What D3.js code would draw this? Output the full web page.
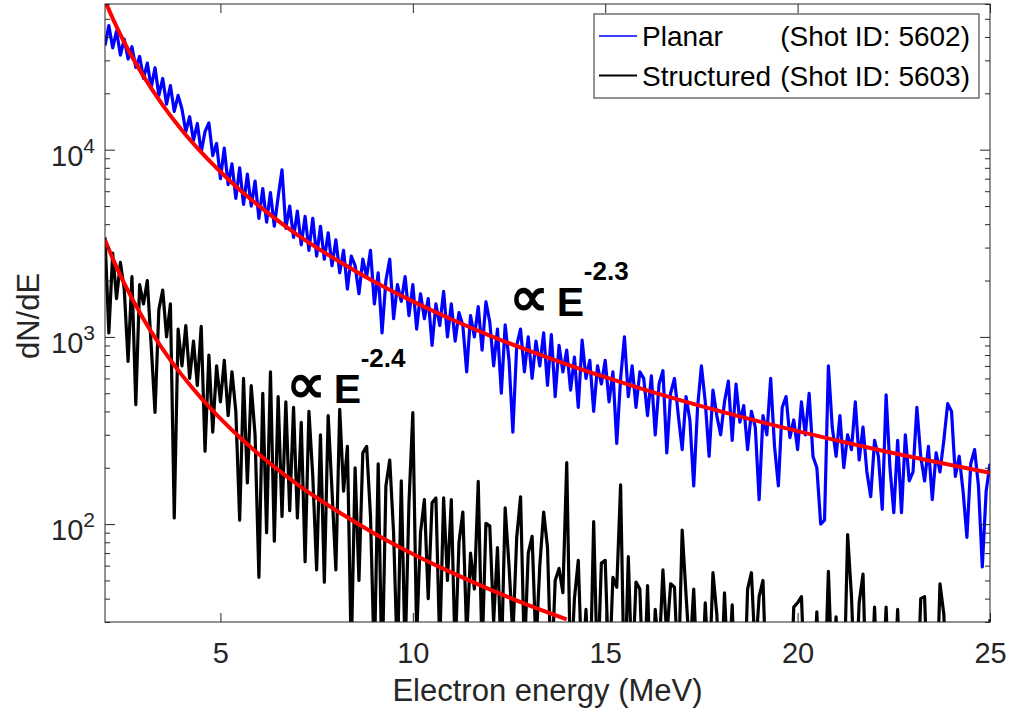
<!DOCTYPE html>
<html>
<head>
<meta charset="utf-8">
<script src="https://cdn.jsdelivr.net/npm/d3@7"></script>
<style>
  body { margin: 0; background: #fff; }
  svg text { font-family: "Liberation Sans", Arial, Helvetica, sans-serif; }
</style>
</head>
<body>
<svg id="chart" width="1013" height="714"></svg>
<script>
// energy bins (MeV)
const energy = [
  2.0, 2.1, 2.2, 2.3, 2.4, 2.5, 2.6, 2.7, 2.8, 2.9,
  3.0, 3.1, 3.2, 3.3, 3.4, 3.5, 3.6, 3.7, 3.8, 3.9,
  4.0, 4.1, 4.2, 4.3, 4.4, 4.5, 4.6, 4.7, 4.8, 4.9,
  5.0, 5.1, 5.2, 5.3, 5.4, 5.5, 5.6, 5.7, 5.8, 5.9,
  6.0, 6.1, 6.2, 6.3, 6.4, 6.5, 6.6, 6.7, 6.8, 6.9,
  7.0, 7.1, 7.2, 7.3, 7.4, 7.5, 7.6, 7.7, 7.8, 7.9,
  8.0, 8.1, 8.2, 8.3, 8.4, 8.5, 8.6, 8.7, 8.8, 8.9,
  9.0, 9.1, 9.2, 9.3, 9.4, 9.5, 9.6, 9.7, 9.8, 9.9,
  10.0, 10.1, 10.2, 10.3, 10.4, 10.5, 10.6, 10.7, 10.8, 10.9,
  11.0, 11.1, 11.2, 11.3, 11.4, 11.5, 11.6, 11.7, 11.8, 11.9,
  12.0, 12.1, 12.2, 12.3, 12.4, 12.5, 12.6, 12.7, 12.8, 12.9,
  13.0, 13.1, 13.2, 13.3, 13.4, 13.5, 13.6, 13.7, 13.8, 13.9,
  14.0, 14.1, 14.2, 14.3, 14.4, 14.5, 14.6, 14.7, 14.8, 14.9,
  15.0, 15.1, 15.2, 15.3, 15.4, 15.5, 15.6, 15.7, 15.8, 15.9,
  16.0, 16.1, 16.2, 16.3, 16.4, 16.5, 16.6, 16.7, 16.8, 16.9,
  17.0, 17.1, 17.2, 17.3, 17.4, 17.5, 17.6, 17.7, 17.8, 17.9,
  18.0, 18.1, 18.2, 18.3, 18.4, 18.5, 18.6, 18.7, 18.8, 18.9,
  19.0, 19.1, 19.2, 19.3, 19.4, 19.5, 19.6, 19.7, 19.8, 19.9,
  20.0, 20.1, 20.2, 20.3, 20.4, 20.5, 20.6, 20.7, 20.8, 20.9,
  21.0, 21.1, 21.2, 21.3, 21.4, 21.5, 21.6, 21.7, 21.8, 21.9,
  22.0, 22.1, 22.2, 22.3, 22.4, 22.5, 22.6, 22.7, 22.8, 22.9,
  23.0, 23.1, 23.2, 23.3, 23.4, 23.5, 23.6, 23.7, 23.8, 23.9,
  24.0, 24.1, 24.2, 24.3, 24.4, 24.5, 24.6, 24.7, 24.8, 24.9,
  25.0
];

// dN/dE, planar target (shot 5602)
const planar = [
  36000, 46000, 35000, 43000, 32000, 39000, 30500, 35500, 27500, 31500,
  24000, 29000, 21500, 27400, 19500, 24000, 17500, 22000, 16000, 19500,
  16500, 12500, 15000, 11200, 13800, 9700, 12500, 13900, 9300, 10800,
  7000, 10200, 6500, 8400, 5500, 8000, 5100, 7400, 5000, 6800,
  4300, 6200, 4100, 5900, 3900, 5600, 7800, 3800, 5000, 3400,
  4700, 3100, 4400, 2900, 4300, 2700, 3900, 2600, 3600, 2400,
  3300, 2200, 2900, 1800, 2700, 2400, 1700, 2600, 2100, 2900,
  1500, 2200, 1050, 2000, 2600, 1250, 1900, 1550, 2100, 1300,
  1900, 1100, 1700, 1250, 1600, 900, 1500, 1150, 1750, 1000,
  1500, 950, 1350, 1150, 650, 1300, 1000, 1450, 850, 1540,
  1200, 700, 1100, 500, 1160, 750, 310, 900, 1100, 650,
  1000, 600, 950, 700, 1050, 550, 1030, 480, 900, 650,
  850, 520, 780, 420, 960, 600, 750, 400, 700, 560,
  750, 450, 650, 270, 600, 1000, 480, 700, 420, 650,
  600, 380, 620, 300, 560, 660, 240, 500, 600, 380,
  250, 480, 360, 160, 420, 700, 450, 230, 520, 380,
  300, 450, 580, 280, 560, 350, 430, 250, 400, 330,
  135, 380, 300, 600, 260, 160, 420, 480, 290, 360,
  250, 450, 300, 500, 230, 200, 100, 105, 700, 330,
  230, 380, 200, 300, 250, 450, 220, 330, 190, 140,
  280, 230, 120, 490, 200, 115, 280, 115, 300, 170,
  190, 420, 230, 170, 260, 135, 240, 190, 280, 440,
  400, 180, 230, 150, 85, 210, 250, 160, 59, 150,
  210
];

// dN/dE, structured target (shot 5603)
const structured = [
  3400, 1050, 2800, 1600, 2500, 1800, 740, 2100, 435, 1900,
  1500, 2000, 900, 395, 1400, 1780, 1000, 1500, 108, 1100,
  700, 1150, 600, 950, 550, 1140, 245, 800, 310, 700,
  450, 750, 380, 650, 400, 105, 600, 166, 550, 300,
  52, 500, 90, 650, 81, 480, 110, 450, 118, 420,
  108, 350, 63, 400, 180, 57, 300, 49, 380, 150,
  57, 410, 150, 260, 20, 200, 50, 240, 260, 110,
  18, 210, 15, 160, 220, 90, 18, 170, 20, 130,
  394, 25, 90, 135, 40, 130, 138, 22, 138, 50,
  135, 20, 80, 116, 25, 70, 45, 169, 20, 101,
  98, 30, 75, 18, 122, 60, 25, 85, 140, 20,
  70, 86, 22, 60, 116, 75, 15, 50, 58, 43,
  213, 15, 40, 64, 15, 35, 12, 103, 15, 62,
  64, 15, 52, 46, 162, 12, 67, 15, 49, 45,
  12, 47, 10, 35, 20, 57, 25, 48, 46, 15,
  93, 42, 20, 45, 15, 12, 38, 15, 55, 33,
  12, 43, 15, 37, 10, 12, 10, 45, 55, 20,
  41, 50, 12, 10, 10, 12, 10, 12, 10, 36,
  38, 41, 12, 10, 12, 34, 10, 12, 56, 15,
  32, 10, 12, 88, 41, 12, 38, 54, 10, 12,
  36, 10, 12, 36, 10, 12, 35, 10, 12, 10,
  12, 10, 40, 41, 10, 12, 10, 48, 33, 10,
  12, 10, 12, 10, 12, 10, 12, 10, 12, 10,
  31
];

// power-law fits
const planarFitE = [2.0, 2.2, 2.5, 3.0, 3.5, 4.0, 4.5, 5.0, 5.5, 6.0, 7.0, 8.0, 9.0, 10, 11, 12, 13, 14, 15, 16, 18, 20, 22, 25];
const planarFit = [62600, 50300, 37500, 24700, 17300, 12700, 9700, 7620, 6110, 5010, 3510, 2590, 1970, 1547, 1242, 1017, 846, 713, 609, 525, 400, 314, 252, 188];
const structFitE = [2.0, 2.25, 2.5, 3.0, 3.5, 4.0, 4.5, 5.0, 5.5, 6.0, 7.0, 8.0, 9.0, 10, 11, 12, 13, 14];
const structFit = [3300, 2487, 1932, 1247, 861, 625, 471, 366, 291, 236, 163, 118.5, 89.2, 69.3, 55.2, 44.8, 36.9, 31];

const xTicks = [5, 10, 15, 20, 25];
const yTicks = [100, 1000, 10000];
const yTickExp = ["2", "3", "4"];
const legendNames = ["Planar", "Structured"];
const legendShots = ["(Shot ID: 5602)", "(Shot ID: 5603)"];
const seriesColors = ["#0000ff", "#000000"];
const fitNotes = [
  { e: 12.6, v: 1300, exp: "-2.3" },
  { e: 6.8, v: 445, exp: "-2.4" }
];

const W = 1013, H = 714;
const margin = { top: 4, right: 23, bottom: 92, left: 105 };
const axisColor = "#262626";

const svg = d3.select("#chart");
svg.append("rect").attr("width", W).attr("height", H).attr("fill", "#fff");

const x = d3.scaleLinear().domain([2, 25]).range([margin.left, W - margin.right]);
const y = d3.scaleLog().domain([30, 60000]).range([H - margin.bottom, margin.top]);

svg.append("defs").append("clipPath").attr("id", "plot-clip")
  .append("rect")
  .attr("x", x.range()[0]).attr("y", y.range()[1])
  .attr("width", x.range()[1] - x.range()[0])
  .attr("height", y.range()[0] - y.range()[1]);

const line = d3.line()
  .x(d => x(d[0]))
  .y(d => y(d[1]));

const plot = svg.append("g").attr("clip-path", "url(#plot-clip)");

[planar, structured].forEach((vals, k) => {
  plot.append("path")
    .datum(energy.map((e, i) => [e, vals[i]]))
    .attr("d", line)
    .attr("fill", "none")
    .attr("stroke", seriesColors[k])
    .attr("stroke-width", 3.2)
    .attr("stroke-linejoin", "round");
});

const smooth = d3.line().x(d => x(d[0])).y(d => y(d[1])).curve(d3.curveMonotoneX);

[[planarFitE, planarFit], [structFitE, structFit]].forEach(([es, vs]) => {
  plot.append("path")
    .datum(es.map((e, i) => [e, vs[i]]))
    .attr("d", smooth)
    .attr("fill", "none")
    .attr("stroke", "#ff0000")
    .attr("stroke-width", 4);
});

// axes, MATLAB style: ticks inward on all four sides
const minorTicks = y.ticks().filter(t => !yTicks.includes(t) && t >= 30 && t <= 60000);

function styleAxis(g) {
  g.attr("color", axisColor)
    .attr("font-family", null)
    .attr("font-size", null);
  g.select(".domain").remove();
}

svg.append("g")
  .attr("transform", `translate(0,${y.range()[0]})`)
  .call(d3.axisBottom(x).tickValues(xTicks).tickSizeInner(-9).tickSizeOuter(0).tickPadding(20))
  .call(styleAxis)
  .selectAll("text").attr("font-size", 29).attr("fill", axisColor);

svg.append("g")
  .attr("transform", `translate(0,${y.range()[1]})`)
  .call(d3.axisTop(x).tickValues(xTicks).tickSizeInner(-9).tickSizeOuter(0).tickFormat(() => ""))
  .call(styleAxis);

[[d3.axisLeft, x.range()[0]], [d3.axisRight, x.range()[1]]].forEach(([ax, pos]) => {
  svg.append("g")
    .attr("transform", `translate(${pos},0)`)
    .call(ax(y).tickValues(yTicks).tickSizeInner(-10).tickSizeOuter(0).tickFormat(() => ""))
    .call(styleAxis);
  svg.append("g")
    .attr("transform", `translate(${pos},0)`)
    .call(ax(y).tickValues(minorTicks).tickSizeInner(-5).tickSizeOuter(0).tickFormat(() => ""))
    .call(styleAxis);
});

// y tick labels 10^n
const yLab = svg.append("g").attr("fill", axisColor);
yTicks.forEach((t, i) => {
  const txt = yLab.append("text")
    .attr("x", x.range()[0] - 10)
    .attr("y", y(t) + 16)
    .attr("text-anchor", "end")
    .attr("font-size", 29);
  txt.append("tspan").text("10");
  txt.append("tspan").attr("font-size", 21).attr("dy", -13).text(yTickExp[i]);
});

// box
svg.append("rect")
  .attr("x", x.range()[0]).attr("y", y.range()[1])
  .attr("width", x.range()[1] - x.range()[0])
  .attr("height", y.range()[0] - y.range()[1])
  .attr("fill", "none")
  .attr("stroke", axisColor)
  .attr("stroke-width", 1);

// axis labels
svg.append("text")
  .attr("x", (x.range()[0] + x.range()[1]) / 2)
  .attr("y", 701)
  .attr("text-anchor", "middle")
  .attr("font-size", 31)
  .attr("fill", axisColor)
  .text("Electron energy (MeV)");

svg.append("text")
  .attr("transform", `translate(39,${(y.range()[0] + y.range()[1]) / 2 + 3}) rotate(-90)`)
  .attr("text-anchor", "middle")
  .attr("font-size", 31)
  .attr("fill", axisColor)
  .text("dN/dE");

// fit annotations
fitNotes.forEach(n => {
  const g = svg.append("g")
    .attr("transform", `translate(${x(n.e)},${y(n.v)})`)
    .attr("font-weight", "bold")
    .attr("fill", "#000");
  g.append("text")
    .attr("x", -4)
    .attr("font-family", "'DejaVu Sans', sans-serif")
    .attr("font-size", 56)
    .text("\u221D");
  g.append("text").attr("x", 44).attr("font-size", 41).text("E");
  g.append("text").attr("x", 71).attr("y", -36).attr("font-size", 26).text(n.exp);
});

// legend
const leg = svg.append("g");
leg.append("rect")
  .attr("x", 594).attr("y", 14)
  .attr("width", 385).attr("height", 84)
  .attr("fill", "#fff")
  .attr("stroke", axisColor)
  .attr("stroke-width", 1);

legendNames.forEach((name, i) => {
  const cy = 36 + i * 39.5;
  leg.append("line")
    .attr("x1", 599).attr("x2", 637)
    .attr("y1", cy).attr("y2", cy)
    .attr("stroke", seriesColors[i])
    .attr("stroke-width", i === 0 ? 1.5 : 2);
  leg.append("text")
    .attr("x", 642).attr("y", cy + 10)
    .attr("font-size", 28)
    .attr("fill", "#000")
    .text(name);
  leg.append("text")
    .attr("x", 970).attr("y", cy + 10)
    .attr("text-anchor", "end")
    .attr("font-size", 28)
    .attr("fill", "#000")
    .text(legendShots[i]);
});
</script>
</body>
</html>
